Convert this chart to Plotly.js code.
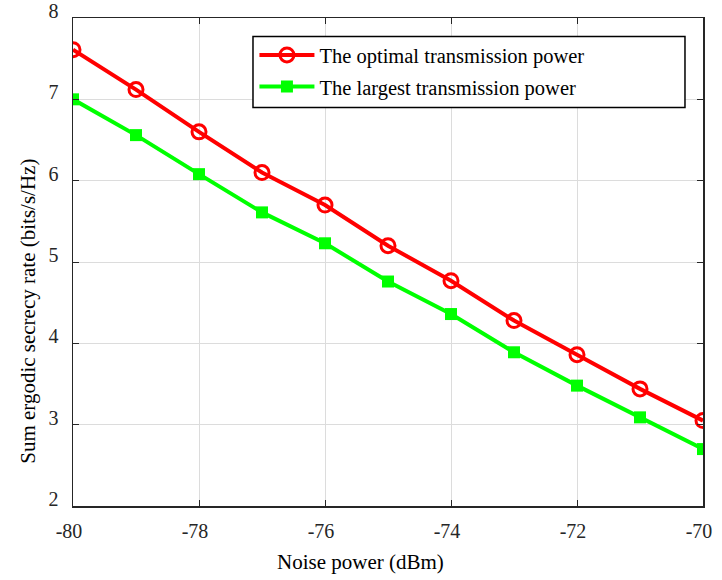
<!DOCTYPE html>
<html>
<head>
<meta charset="utf-8">
<script src="https://cdn.plot.ly/plotly-3.0.1.min.js"></script>
<style>html,body{margin:0;padding:0;background:#fff;}#chart{width:722px;height:580px;}</style>
</head>
<body>
<div id="chart"></div>
<script>
const noisePower = [-80, -79, -78, -77, -76, -75, -74, -73, -72, -71, -70];
const optimalRate = [7.61, 7.12, 6.60, 6.10, 5.70, 5.20, 4.77, 4.28, 3.86, 3.44, 3.05];
const largestRate = [7.00, 6.56, 6.08, 5.61, 5.23, 4.76, 4.36, 3.89, 3.48, 3.09, 2.70];
const seriesNames = ['The optimal transmission power', 'The largest transmission power'];
const xTicks = [-80, -78, -76, -74, -72, -70];
const yTicks = [2, 3, 4, 5, 6, 7, 8];
const xTitle = 'Noise power (dBm)';
const yTitle = 'Sum ergodic secrecy rate (bits/s/Hz)';

const font = 'Liberation Serif, Times New Roman, serif';

const traces = [
  {
    x: noisePower, y: optimalRate, name: seriesNames[0], type: 'scatter', mode: 'lines+markers',
    legendgroup: 'a',
    line: {color: '#ff0000', width: 4},
    marker: {symbol: 'circle-open', size: 14, color: '#ff0000', line: {width: 3, color: '#ff0000'}}
  },
  {
    x: noisePower, y: largestRate, name: seriesNames[1], type: 'scatter', mode: 'lines+markers',
    legendgroup: 'b',
    line: {color: '#00ff00', width: 4},
    marker: {symbol: 'square', size: 12, color: '#00ff00'}
  }
];

const axisCommon = {
  showline: true, linecolor: '#262626', linewidth: 1.5, mirror: 'ticks',
  ticks: 'inside', ticklen: 6, tickcolor: '#262626', tickwidth: 1,
  showgrid: true, gridcolor: '#dcdcdc', gridwidth: 1, zeroline: false,
  tickfont: {family: font, size: 20, color: '#262626'}
};

const layout = {
  width: 722, height: 580,
  margin: {l: 73, r: 19, t: 18, b: 74},
  paper_bgcolor: '#fff', plot_bgcolor: '#fff',
  font: {family: font, color: '#000'},
  showlegend: true,
  legend: {
    x: 0.288, y: 0.965, xanchor: 'left', yanchor: 'top',
    bgcolor: 'rgba(0,0,0,0)', borderwidth: 0,
    font: {family: font, size: 20.5, color: '#000'},
    traceorder: 'grouped', tracegroupgap: 2, itemwidth: 55
  },
  shapes: [{
    type: 'rect', xref: 'paper', yref: 'paper', layer: 'above',
    x0: 0.2857, x1: 0.9714, y0: 0.8164, y1: 0.962,
    line: {color: '#000', width: 1.5}, fillcolor: '#fff'
  }],
  annotations: [
    {text: xTitle, xref: 'paper', yref: 'paper', x: 0.4556, y: -0.115, showarrow: false,
     xanchor: 'center', yanchor: 'middle', font: {family: font, size: 21, color: '#000'}},
    {text: yTitle, xref: 'paper', yref: 'paper', x: -0.0714, y: 0.398, showarrow: false, textangle: -90,
     xanchor: 'center', yanchor: 'middle', font: {family: font, size: 21, color: '#000'}}
  ],
  xaxis: Object.assign({}, axisCommon, {
    range: [-80, -70], tickvals: xTicks, ticktext: xTicks.map(String),
    ticklabelstandoff: 6, ticklabelshift: -4
  }),
  yaxis: Object.assign({}, axisCommon, {
    range: [2, 8], tickvals: yTicks, ticktext: yTicks.map(String),
    ticklabelstandoff: 9, ticklabelshift: -7
  })
};

Plotly.newPlot('chart', traces, layout, {displayModeBar: false, staticPlot: true});
</script>
</body>
</html>
